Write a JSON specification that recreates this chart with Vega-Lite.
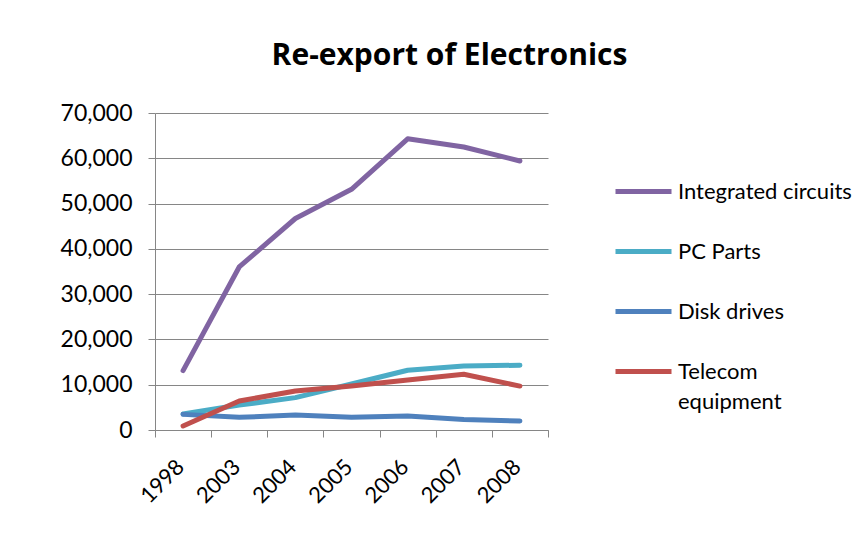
{
  "$schema": "https://vega.github.io/schema/vega-lite/v6.json",
  "width": 393,
  "height": 317,
  "autosize": "none",
  "padding": {"left": 155, "top": 113, "right": 319, "bottom": 125},
  "background": "white",
  "title": {
    "text": "Re-export of Electronics",
    "font": "Open Sans",
    "fontSize": 30,
    "fontWeight": "bold",
    "color": "#000000",
    "anchor": "middle",
    "dx": 98,
    "offset": 31
  },
  "data": {
    "values": [
      {"series": "Integrated circuits", "year": "1998", "value": 13100},
      {"series": "Integrated circuits", "year": "2003", "value": 36000},
      {"series": "Integrated circuits", "year": "2004", "value": 46700},
      {"series": "Integrated circuits", "year": "2005", "value": 53150},
      {"series": "Integrated circuits", "year": "2006", "value": 64300},
      {"series": "Integrated circuits", "year": "2007", "value": 62500},
      {"series": "Integrated circuits", "year": "2008", "value": 59400},
      {"series": "PC Parts", "year": "1998", "value": 3550},
      {"series": "PC Parts", "year": "2003", "value": 5500},
      {"series": "PC Parts", "year": "2004", "value": 7150},
      {"series": "PC Parts", "year": "2005", "value": 10150},
      {"series": "PC Parts", "year": "2006", "value": 13200},
      {"series": "PC Parts", "year": "2007", "value": 14150},
      {"series": "PC Parts", "year": "2008", "value": 14300},
      {"series": "Disk drives", "year": "1998", "value": 3450},
      {"series": "Disk drives", "year": "2003", "value": 2800},
      {"series": "Disk drives", "year": "2004", "value": 3300},
      {"series": "Disk drives", "year": "2005", "value": 2800},
      {"series": "Disk drives", "year": "2006", "value": 3100},
      {"series": "Disk drives", "year": "2007", "value": 2300},
      {"series": "Disk drives", "year": "2008", "value": 2000},
      {"series": "Telecom equipment", "year": "1998", "value": 900},
      {"series": "Telecom equipment", "year": "2003", "value": 6400},
      {"series": "Telecom equipment", "year": "2004", "value": 8600},
      {"series": "Telecom equipment", "year": "2005", "value": 9700},
      {"series": "Telecom equipment", "year": "2006", "value": 11050},
      {"series": "Telecom equipment", "year": "2007", "value": 12300},
      {"series": "Telecom equipment", "year": "2008", "value": 9700}
    ]
  },
  "mark": {"type": "line", "strokeWidth": 5, "strokeCap": "round", "strokeJoin": "round"},
  "encoding": {
    "x": {
      "field": "year",
      "type": "ordinal",
      "scale": {"type": "band", "paddingInner": 0, "paddingOuter": 0},
      "axis": {
        "title": null,
        "tickBand": "extent",
        "labelAngle": -45,
        "labelAlign": "right",
        "labelBaseline": "middle",
        "labelFont": "Lato",
        "labelFontSize": 22,
        "labelColor": "#000000",
        "labelPadding": 26,
        "labelOffset": -3,
        "tickSize": 7,
        "tickColor": "#868686",
        "domainColor": "#868686",
        "grid": false
      }
    },
    "y": {
      "field": "value",
      "type": "quantitative",
      "scale": {"domain": [0, 70000], "nice": false},
      "axis": {
        "title": null,
        "values": [0, 10000, 20000, 30000, 40000, 50000, 60000, 70000],
        "format": ",.0f",
        "grid": true,
        "gridColor": "#868686",
        "domainColor": "#868686",
        "tickColor": "#868686",
        "tickSize": 7,
        "labelFont": "Lato",
        "labelFontSize": 23,
        "labelColor": "#000000",
        "labelPadding": 16
      }
    },
    "color": {
      "field": "series",
      "type": "nominal",
      "scale": {
        "domain": ["Integrated circuits", "PC Parts", "Disk drives", "Telecom equipment"],
        "range": ["#8064A2", "#4BACC6", "#4F81BD", "#C0504D"]
      },
      "legend": {
        "title": null,
        "orient": "none",
        "legendX": 458,
        "legendY": 48,
        "symbolType": "stroke",
        "symbolSize": 3136,
        "symbolStrokeWidth": 5,
        "labelFont": "Lato",
        "labelFontSize": 22,
        "labelColor": "#000000",
        "labelOffset": 4,
        "labelLimit": 300,
        "rowPadding": 18,
        "labelExpr": "datum.label == 'Telecom equipment' ? ['Telecom', 'equipment'] : datum.label",
        "encode": {
          "labels": {
            "update": {
              "lineHeight": {"value": 30}
            }
          }
        }
      }
    }
  },
  "config": {"view": {"stroke": null}}
}
